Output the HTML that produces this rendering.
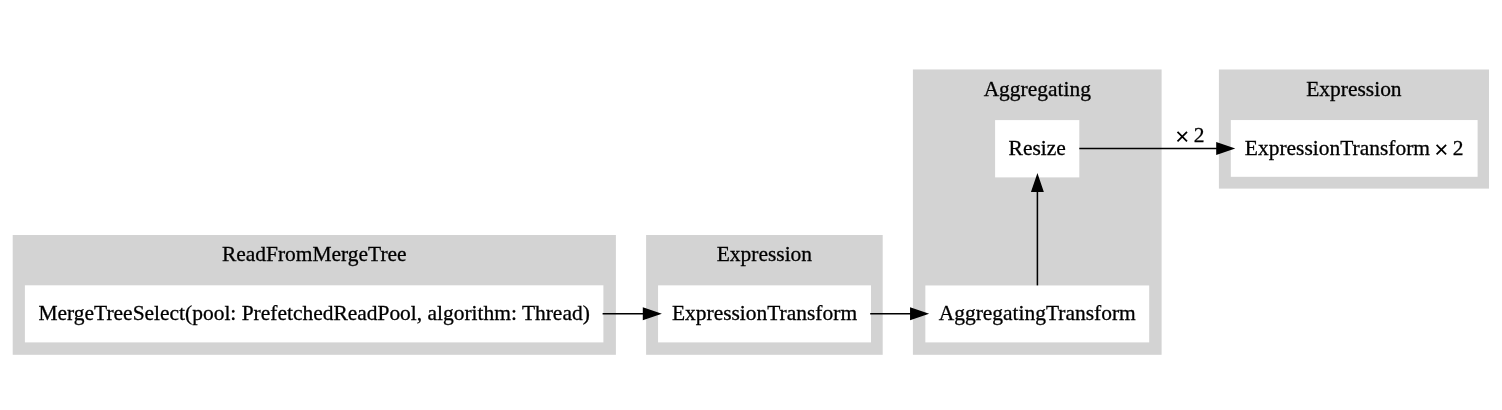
<!DOCTYPE html>
<html><head><meta charset="utf-8"><style>
html,body{margin:0;padding:0;background:#fff;width:1502px;height:410px;overflow:hidden}
svg{display:block;will-change:transform}
text{font-family:"Liberation Serif",serif;font-size:21.46px;text-anchor:middle;fill:#000;stroke:#000;stroke-width:0.3px}
</style></head><body>
<svg width="1502" height="410" viewBox="0 0 1502 410">
<rect x="12.7" y="235" width="603.20" height="119.80" fill="#d3d3d3"/>
<rect x="646.1" y="235" width="236.60" height="119.80" fill="#d3d3d3"/>
<rect x="912.9" y="69.45" width="248.70" height="285.35" fill="#d3d3d3"/>
<rect x="1218.9" y="69.5" width="270.10" height="119.10" fill="#d3d3d3"/>
<rect x="24.9" y="285.3" width="578.50" height="57.10" fill="#fff"/>
<rect x="658.05" y="285.35" width="212.95" height="57.05" fill="#fff"/>
<rect x="925.35" y="285.45" width="223.85" height="56.95" fill="#fff"/>
<rect x="995.1" y="120.1" width="84.20" height="57.30" fill="#fff"/>
<rect x="1230.8" y="120.05" width="246.80" height="56.75" fill="#fff"/>
<text x="314.30" y="261">ReadFromMergeTree</text>
<text x="764.40" y="261">Expression</text>
<text x="1037.25" y="96">Aggregating</text>
<text x="1353.95" y="96">Expression</text>
<text x="314.15" y="320">MergeTreeSelect(pool: PrefetchedReadPool, algorithm: Thread)</text>
<text x="764.52" y="320">ExpressionTransform</text>
<text x="1037.28" y="320">AggregatingTransform</text>
<text x="1037.20" y="155">Resize</text>
<text x="1354.20" y="155">ExpressionTransform <tspan fill="transparent" stroke="transparent">×</tspan> 2</text>
<path d="M602.6,313.75 L643.5699999999999,313.75" stroke="#000" stroke-width="1.54" fill="none"/><polygon points="659.4699999999999,313.75 643.5699999999999,308.36 643.5699999999999,319.14" fill="#000" stroke="#000" stroke-width="1.54"/>
<path d="M870.2,313.75 L910.8199999999999,313.75" stroke="#000" stroke-width="1.54" fill="none"/><polygon points="926.7199999999999,313.75 910.8199999999999,308.36 910.8199999999999,319.14" fill="#000" stroke="#000" stroke-width="1.54"/>
<path d="M1037.4,285.4 L1037.4,191.32999999999998" stroke="#000" stroke-width="1.54" fill="none"/><polygon points="1037.4,175.42999999999998 1032.01,191.32999999999998 1042.7900000000002,191.32999999999998" fill="#000" stroke="#000" stroke-width="1.54"/>
<path d="M1079.3,148.5 L1216.9699999999998,148.5" stroke="#000" stroke-width="1.54" fill="none"/><polygon points="1232.87,148.5 1216.9699999999998,143.11 1216.9699999999998,153.89" fill="#000" stroke="#000" stroke-width="1.54"/>
<text x="1190.3" y="142"><tspan fill="transparent" stroke="transparent">×</tspan> 2</text>
<path d="M1177.50,131.85 L1187.00,141.35 M1187.00,131.85 L1177.50,141.35" stroke="#000" stroke-width="1.75" fill="none"/>
<path d="M1436.60,144.90 L1446.10,154.40 M1446.10,144.90 L1436.60,154.40" stroke="#000" stroke-width="1.75" fill="none"/>
</svg>
</body></html>
